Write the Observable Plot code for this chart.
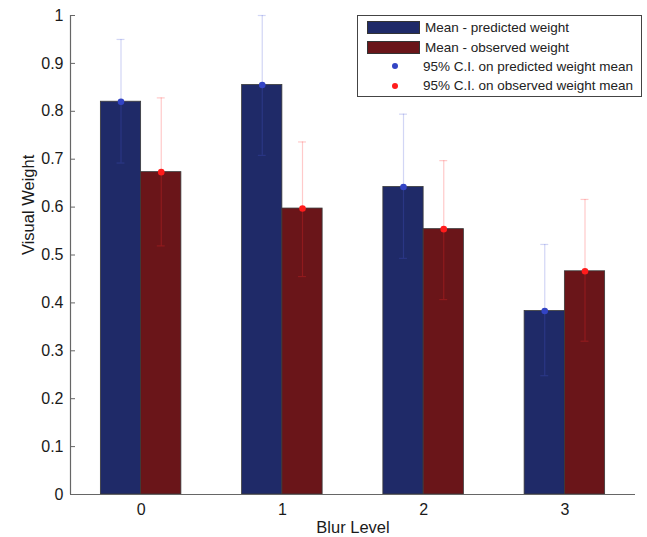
<!DOCTYPE html>
<html>
<head>
<meta charset="utf-8">
<script src="https://cdn.jsdelivr.net/npm/d3@7"></script>
<script src="https://cdn.jsdelivr.net/npm/@observablehq/plot@0.6"></script>
<style>
  body { margin: 0; background: #fff; font-family: "Liberation Sans", Arial, sans-serif; }
  #wrap { position: relative; width: 647px; height: 537px; }
  #legend { position: absolute; left: 357px; top: 15px; width: 285px; height: 82px;
    border: 1px solid #444; background: #fff; font-size: 13.5px; color: #222; box-sizing: border-box; }
  .row { position: absolute; left: 0; height: 19px; }
  .sw { position: absolute; left: 9px; width: 53px; height: 13px; }
  .dot { position: absolute; left: 34px; width: 6px; height: 6px; border-radius: 50%; }
  .lab { position: absolute; white-space: nowrap; line-height: 17px; }
</style>
</head>
<body>
<div id="wrap"></div>
<script>
// ---- data ----
const levels = [0, 1, 2, 3];
const predMean = [0.820, 0.855, 0.642, 0.383];
const predLow  = [0.692, 0.708, 0.493, 0.248];
const predHigh = [0.950, 1.000, 0.794, 0.522];
const obsMean  = [0.673, 0.597, 0.554, 0.466];
const obsLow   = [0.519, 0.455, 0.407, 0.320];
const obsHigh  = [0.828, 0.736, 0.697, 0.616];
const xDomain = [-0.5, 3.5];
const yTicks = [0, 0.1, 0.2, 0.3, 0.4, 0.5, 0.6, 0.7, 0.8, 0.9, 1];
const yTickLabels = ["0", "0.1", "0.2", "0.3", "0.4", "0.5", "0.6", "0.7", "0.8", "0.9", "1"];
const xLabel = "Blur Level";
const yLabel = "Visual Weight";
const seriesNames = ["Mean - predicted weight", "Mean - observed weight",
  "95% C.I. on predicted weight mean", "95% C.I. on observed weight mean"];

// ---- build table ----
const barW = 0.285;
const rows = [];
levels.forEach((l, i) => {
  rows.push({level: l, series: "pred", off: -barW, mean: predMean[i], lo: predLow[i], hi: predHigh[i]});
  rows.push({level: l, series: "obs", off: 0, mean: obsMean[i], lo: obsLow[i], hi: obsHigh[i]});
});
const fillC = {pred: "#1f2a68", obs: "#6a1519"};
const ciC = {pred: "#4a5ad8", obs: "#ff2a2a"};
const dotC = {pred: "#3344c4", obs: "#ff1c1c"};
const cx = d => d.level + d.off + barW / 2;
const capW = 0.028;
const font = "'Liberation Sans', Arial, sans-serif";

const chart = Plot.plot({
  width: 647,
  height: 537,
  marginLeft: 70,
  marginRight: 12,
  marginTop: 15,
  marginBottom: 43,
  style: {fontFamily: font, fontSize: "16px", color: "#1a1a1a", background: "#fff"},
  x: {type: "linear", domain: xDomain},
  y: {domain: [0, 1]},
  marks: [
    Plot.rectY(rows, {
      x1: d => d.level + d.off, x2: d => d.level + d.off + barW,
      y1: 0, y2: "mean",
      fill: d => fillC[d.series], stroke: "#3a3a3a", strokeWidth: 0.8
    }),
    Plot.ruleX(rows, {x: cx, y1: "lo", y2: "hi", stroke: d => ciC[d.series], strokeOpacity: 0.25, strokeWidth: 1.2}),
    Plot.ruleY(rows, {y: "hi", x1: d => cx(d) - capW, x2: d => cx(d) + capW, stroke: d => ciC[d.series], strokeOpacity: 0.25, strokeWidth: 1.2}),
    Plot.ruleY(rows, {y: "lo", x1: d => cx(d) - capW, x2: d => cx(d) + capW, stroke: d => ciC[d.series], strokeOpacity: 0.25, strokeWidth: 1.2}),
    Plot.dot(rows, {x: cx, y: "mean", r: 3.3, fill: d => dotC[d.series], stroke: "none"}),
    Plot.ruleY([0], {stroke: "#666", strokeWidth: 1.2}),
    Plot.ruleX([xDomain[0]], {stroke: "#666", strokeWidth: 1.2}),
    Plot.axisY({ticks: yTicks, tickFormat: (d, i) => yTickLabels[i], tickSize: 0, tickPadding: 7,
      label: null, fontSize: 16}),
    Plot.axisY({ticks: yTicks, text: null, tickSize: -5, stroke: "#666", label: null}),
    Plot.axisX({ticks: levels, tickFormat: d => String(d), tickSize: 0, tickPadding: 9,
      label: null, fontSize: 16}),
    Plot.text([xLabel], {text: d => d, frameAnchor: "bottom", lineAnchor: "middle", dy: 33.5, fontSize: 16.5}),
    Plot.text([yLabel], {text: d => d, frameAnchor: "left", lineAnchor: "middle", dx: -42, rotate: -90, fontSize: 16.5})
  ]
});
document.getElementById("wrap").appendChild(chart);

// ---- legend ----
const legend = document.createElement("div");
legend.id = "legend";
const rowTops = [3, 22.5, 41.5, 61];
const kinds = [
  {type: "sw", color: fillC.pred}, {type: "sw", color: fillC.obs},
  {type: "dot", color: dotC.pred}, {type: "dot", color: dotC.obs}
];
seriesNames.forEach((name, i) => {
  const r = document.createElement("div");
  r.className = "row";
  r.style.top = rowTops[i] + "px";
  r.style.width = "100%";
  const mk = document.createElement("div");
  mk.className = kinds[i].type;
  mk.style.background = kinds[i].color;
  mk.style.top = kinds[i].type === "sw" ? "2px" : "5.5px";
  if (kinds[i].type === "sw") { mk.style.border = "1px solid #333"; mk.style.boxSizing = "border-box"; }
  r.appendChild(mk);
  const t = document.createElement("div");
  t.className = "lab";
  t.textContent = name;
  t.style.left = (i < 2 ? 67 : 65) + "px";
  t.style.top = "0px";
  r.appendChild(t);
  legend.appendChild(r);
});
document.getElementById("wrap").appendChild(legend);
</script>
</body>
</html>
